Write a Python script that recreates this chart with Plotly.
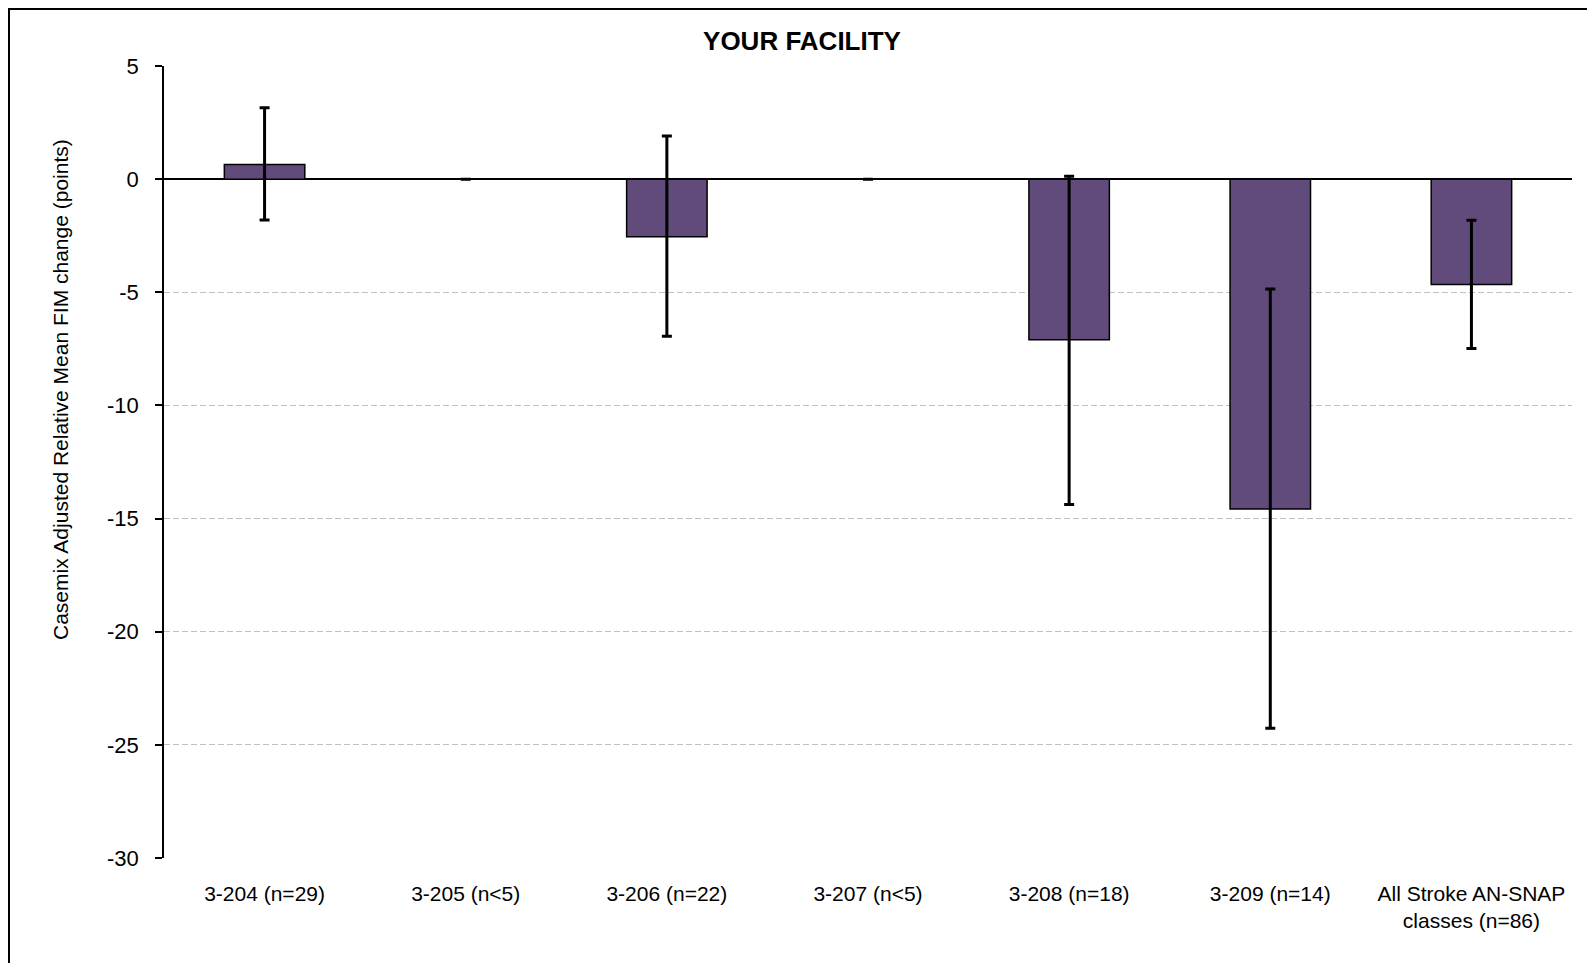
import plotly.graph_objects as go

categories = ["3-204 (n=29)", "3-205 (n<5)", "3-206 (n=22)", "3-207 (n<5)",
              "3-208 (n=18)", "3-209 (n=14)", "All Stroke AN-SNAP<br>classes (n=86)"]
values = [0.65, 0.0, -2.55, 0.0, -7.10, -14.58, -4.66]
ci_upper = [3.15, 0.0, 1.91, 0.0, 0.13, -4.86, -1.82]
ci_lower = [-1.81, 0.0, -6.94, 0.0, -14.38, -24.27, -7.48]
y_ticks = [5, 0, -5, -10, -15, -20, -25, -30]
y_tick_labels = ["5", "0", "-5", "-10", "-15", "-20", "-25", "-30"]

err_plus = [u - v for u, v in zip(ci_upper, values)]
err_minus = [v - l for v, l in zip(values, ci_lower)]

FONT = "Liberation Sans, Arial, sans-serif"

# page offset (default body margin of the html page)
OFF = 8
PAGE_W, PAGE_H = 1595, 963
W, H = PAGE_W - OFF, PAGE_H - OFF
# plot area in page pixels: x 164..1572, y 66..858
L, T = 164 - OFF, 66 - OFF
R = W - (1572 - OFF)
B = H - (858 - OFF)
PW, PH = W - L - R, H - T - B

def px2x(px):
    return (px - OFF - L) / PW

def py2y(py):
    return (H - B - (py - OFF)) / PH

fig = go.Figure()
fig.add_trace(go.Bar(
    x=categories, y=values,
    marker=dict(color="#604B7A", line=dict(color="#000000", width=1.5)),
    error_y=dict(type="data", symmetric=False, array=err_plus, arrayminus=err_minus,
                 color="#000000", thickness=3, width=5),
    showlegend=False,
))

fig.update_layout(
    width=W, height=H,
    margin=dict(l=L, r=R, t=T, b=B),
    paper_bgcolor="white", plot_bgcolor="white",
    font=dict(family=FONT, size=21, color="#000000"),
    bargap=0.6,
    title=dict(text="<b>YOUR FACILITY</b>", x=(802 - OFF) / W, xref="container", xanchor="center",
               y=1 - (40.5 - OFF) / H, yref="container", yanchor="middle",
               font=dict(family=FONT, size=26, color="#000000")),
    xaxis=dict(showline=False, showgrid=False, ticks="", zeroline=False,
               tickfont=dict(family=FONT, size=21), ticklabelstandoff=21),
    yaxis=dict(range=[-30, 5], tickvals=y_ticks, ticktext=y_tick_labels,
               showline=True, linecolor="#000000", linewidth=1.5,
               ticks="outside", ticklen=7, tickwidth=1.5, tickcolor="#000000",
               showgrid=True, gridcolor="#BFBFBF", gridwidth=1, griddash="6px,3px",
               zeroline=True, zerolinecolor="#000000", zerolinewidth=1.5,
               tickfont=dict(family=FONT, size=22), ticklabelstandoff=12),
    shapes=[dict(type="rect", xref="paper", yref="paper",
                 x0=px2x(9), x1=px2x(1600), y0=py2y(9), y1=py2y(980),
                 line=dict(color="#000000", width=2), fillcolor="rgba(0,0,0,0)", layer="above")],
    annotations=[dict(text="Casemix Adjusted Relative Mean FIM change (points)",
                      xref="paper", yref="paper", x=px2x(60), y=py2y(390),
                      textangle=-90, showarrow=False, xanchor="center", yanchor="middle",
                      font=dict(family=FONT, size=21, color="#000000"))],
)

fig.write_html("out.html")
